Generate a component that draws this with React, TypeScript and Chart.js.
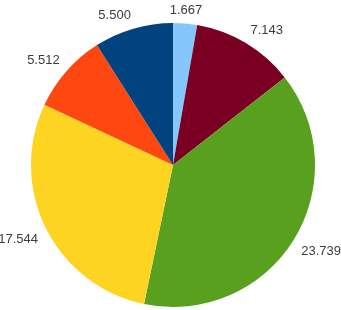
import React, { useEffect, useRef } from "react";
import { Chart, registerables } from "chart.js";

Chart.register(...registerables);

const labels = ["A", "B", "C", "D", "E", "F"];
const values = [1.667, 7.143, 23.739, 17.544, 5.512, 5.5];
const valueLabels = ["1.667", "7.143", "23.739", "17.544", "5.512", "5.500"];
const colors = ["#84C7FC", "#7A0023", "#58A01D", "#FED423", "#FF4711", "#00437F"];

const outsideLabels = {
  id: "outsideLabels",
  afterDraw(chart: any) {
    const ctx = chart.ctx;
    const meta = chart.getDatasetMeta(0);
    ctx.save();
    ctx.font = "13px 'Liberation Sans', Arial, sans-serif";
    ctx.fillStyle = "#3c3c3c";
    meta.data.forEach((arc: any, i: number) => {
      const p = arc.getProps(["x", "y", "startAngle", "endAngle", "outerRadius"], true);
      const mid = (p.startAngle + p.endAngle) / 2;
      const r = p.outerRadius + 9;
      const cx = Math.cos(mid);
      const cy = Math.sin(mid);
      const ax = p.x + cx * r;
      const ay = p.y + cy * r;
      ctx.textAlign = cx > 0.2 ? "left" : cx < -0.2 ? "right" : "center";
      ctx.textBaseline = cy > 0 ? "top" : "bottom";
      ctx.fillText(valueLabels[i], ax, ay + (cy > 0 ? 0 : 2));
    });
    ctx.restore();
  },
};

export default function App() {
  const ref = useRef<HTMLCanvasElement>(null);
  useEffect(() => {
    const chart = new Chart(ref.current!, {
      type: "pie",
      data: {
        labels,
        datasets: [
          {
            data: values,
            backgroundColor: colors,
            borderWidth: 0,
          },
        ],
      },
      options: {
        responsive: false,
        animation: false,
        layout: { padding: { top: 23, bottom: 3, left: 31, right: 26 } },
        plugins: {
          legend: { display: false },
          tooltip: { enabled: false },
        },
      },
      plugins: [outsideLabels],
    });
    return () => chart.destroy();
  }, []);
  return (
    <div style={{ position: "fixed", left: 0, top: 0, width: 341, height: 310, background: "#fff" }}>
      <canvas ref={ref} width={341} height={310} />
    </div>
  );
}
